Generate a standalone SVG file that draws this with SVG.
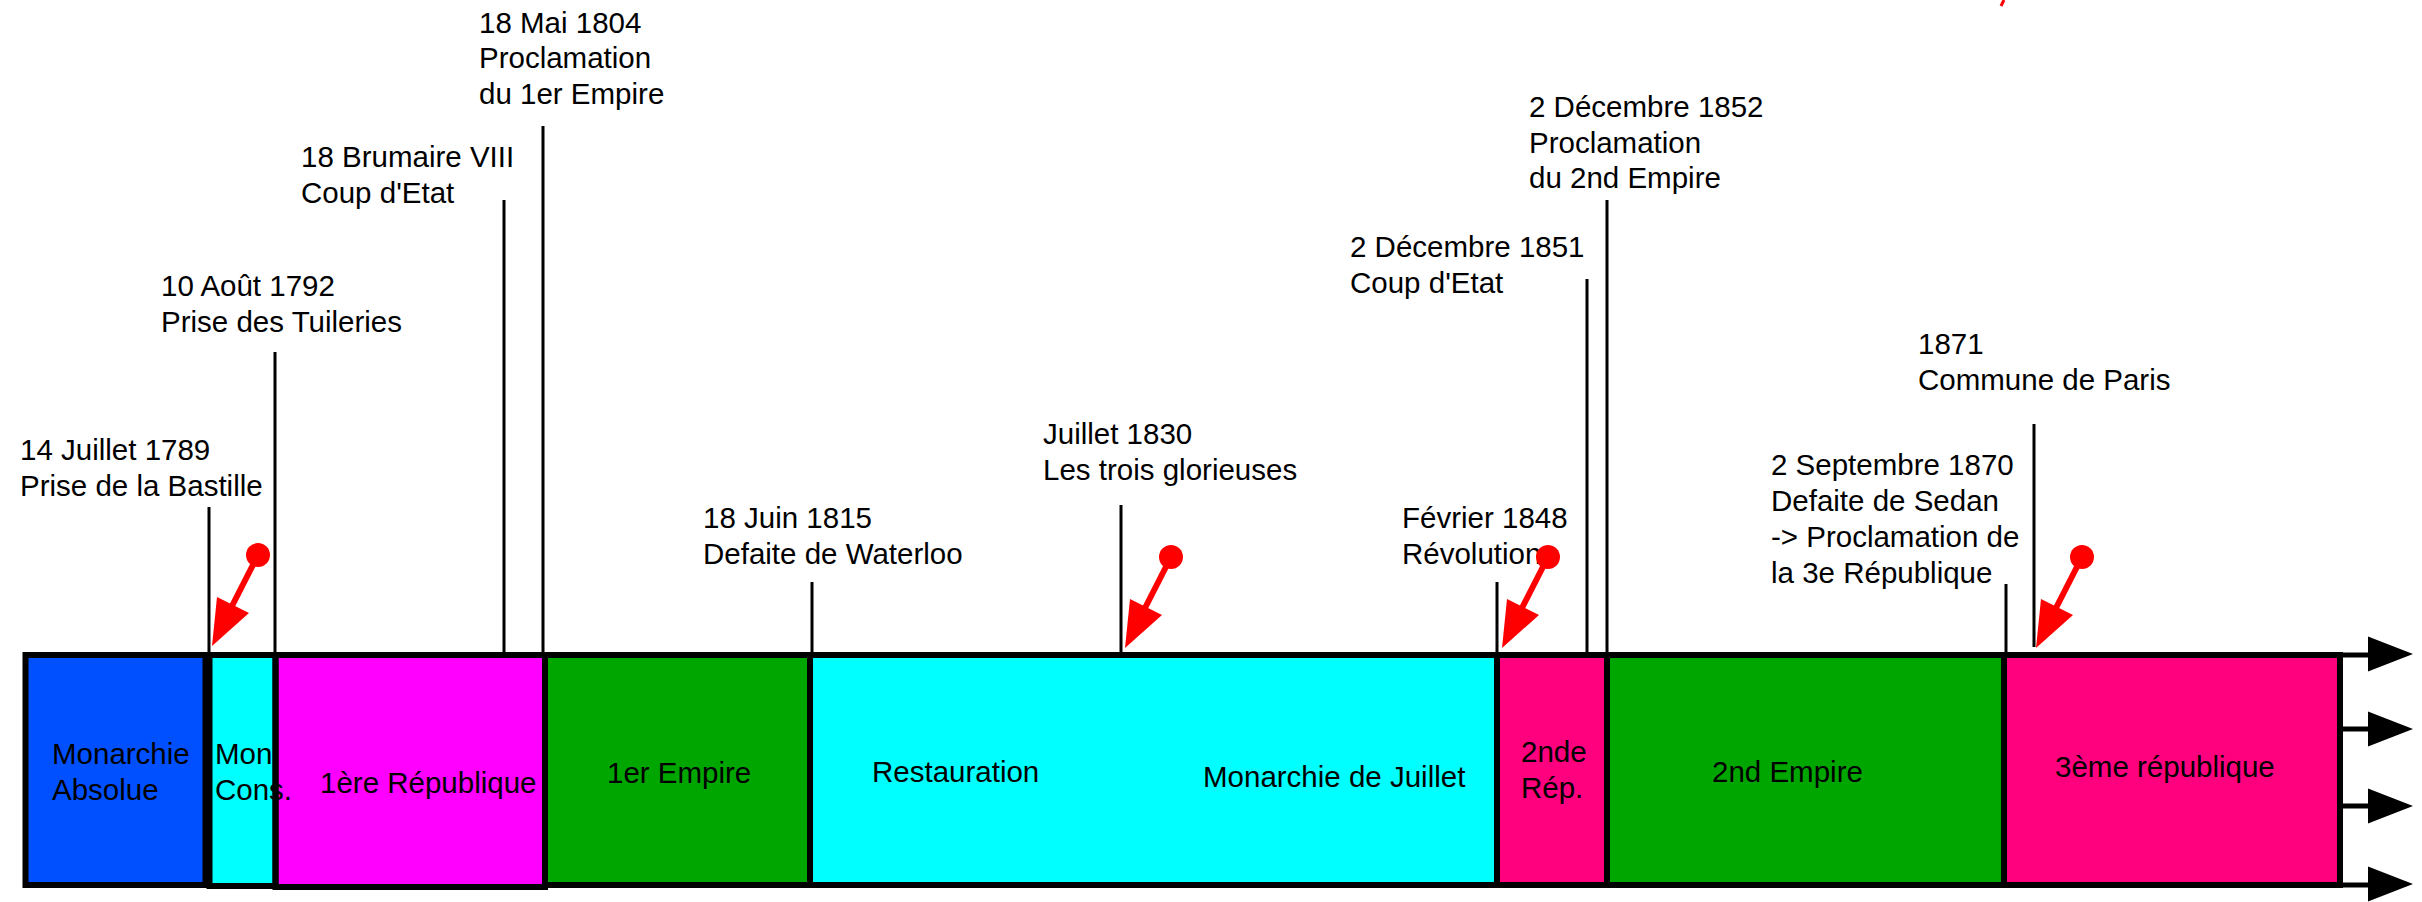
<svg xmlns="http://www.w3.org/2000/svg" xmlns:xlink="http://www.w3.org/1999/xlink" width="2422" height="902" viewBox="0 0 2422 902">
<style>
text { font-family: "Liberation Sans", Arial, sans-serif; font-size: 29.5px; fill: #000; }
.frame { fill: none; stroke: #000; stroke-width: 6; }
.tick { stroke: #000; stroke-width: 3; fill: none; }
.axis { stroke: #000; stroke-width: 5; fill: none; }
</style>
<defs>
  <g id="redarrow">
    <line x1="46" y1="-91" x2="20" y2="-40" stroke="#ff0000" stroke-width="6"/>
    <circle cx="46" cy="-91" r="12" fill="#ff0000"/>
    <polygon points="0,0 5,-49 37,-33" fill="#ff0000"/>
  </g>
  <polygon id="axishead" points="0,-17.5 45,0 0,17.5" fill="#000"/>
</defs>
<rect width="2422" height="902" fill="#ffffff"/>

<g id="labels">
  <g id="ev1789"><text x="20" y="460">14 Juillet 1789</text><text x="20" y="496">Prise de la Bastille</text></g>
  <g id="ev1792"><text x="161" y="296">10 Août 1792</text><text x="161" y="332">Prise des Tuileries</text></g>
  <g id="evBrumaire"><text x="301" y="167">18 Brumaire VIII</text><text x="301" y="203">Coup d'Etat</text></g>
  <g id="ev1804"><text x="479" y="33">18 Mai 1804</text><text x="479" y="68">Proclamation</text><text x="479" y="104">du 1er Empire</text></g>
  <g id="ev1815"><text x="703" y="528">18 Juin 1815</text><text x="703" y="564">Defaite de Waterloo</text></g>
  <g id="ev1830"><text x="1043" y="444">Juillet 1830</text><text x="1043" y="480">Les trois glorieuses</text></g>
  <g id="ev1848"><text x="1402" y="528">Février 1848</text><text x="1402" y="564">Révolution</text></g>
  <g id="ev1851"><text x="1350" y="257">2 Décembre 1851</text><text x="1350" y="293">Coup d'Etat</text></g>
  <g id="ev1852"><text x="1529" y="117">2 Décembre 1852</text><text x="1529" y="153">Proclamation</text><text x="1529" y="188">du 2nd Empire</text></g>
  <g id="ev1871"><text x="1918" y="354">1871</text><text x="1918" y="390">Commune de Paris</text></g>
  <g id="ev1870"><text x="1771" y="475">2 Septembre 1870</text><text x="1771" y="511">Defaite de Sedan</text><text x="1771" y="547">-&gt; Proclamation de</text><text x="1771" y="583">la 3e République</text></g>
</g>

<g id="periods">
  <g id="monarchie-absolue"><rect x="25.5" y="655" width="180" height="230" fill="#0050ff"/><text x="52" y="764">Monarchie</text><text x="52" y="800">Absolue</text></g>
  <g id="premiere-republique"><rect x="275.5" y="655" width="269.5" height="232" fill="#ff00ff"/><text x="320" y="793">1ère République</text></g>
  <g id="monarchie-constitutionnelle"><rect x="209.5" y="655" width="66" height="231" fill="#00ffff"/><text x="215" y="764">Mon</text><text x="215" y="800">Cons.</text></g>
  <g id="premier-empire"><rect x="545" y="655" width="265" height="230" fill="#00a600"/><text x="607" y="783">1er Empire</text></g>
  <g id="restauration-juillet"><rect x="810" y="655" width="687" height="230" fill="#00ffff"/><text x="872" y="782">Restauration</text><text x="1203" y="787">Monarchie de Juillet</text></g>
  <g id="deuxieme-republique"><rect x="1497" y="655" width="110" height="230" fill="#ff007f"/><text x="1521" y="762">2nde</text><text x="1521" y="798">Rép.</text></g>
  <g id="second-empire"><rect x="1607" y="655" width="397" height="230" fill="#00a600"/><text x="1712" y="782">2nd Empire</text></g>
  <g id="troisieme-republique"><rect x="2004" y="655" width="336" height="230" fill="#ff007f"/><text x="2055" y="777">3ème république</text></g>
</g>

<g id="frame">
  <rect class="frame" x="25.5" y="655" width="180" height="230"/>
  <rect class="frame" x="209.5" y="655" width="66" height="231"/>
  <rect class="frame" x="275.5" y="655" width="269.5" height="232"/>
  <rect class="frame" x="545" y="655" width="265" height="230"/>
  <rect class="frame" x="810" y="655" width="687" height="230"/>
  <rect class="frame" x="1497" y="655" width="110" height="230"/>
  <rect class="frame" x="1607" y="655" width="397" height="230"/>
  <rect class="frame" x="2004" y="655" width="336" height="230"/>
</g>

<g id="connectors">
  <line class="tick" x1="209" y1="507" x2="209" y2="655"/>
  <line class="tick" x1="275" y1="352" x2="275" y2="655"/>
  <line class="tick" x1="504" y1="200" x2="504" y2="655"/>
  <line class="tick" x1="543" y1="126" x2="543" y2="655"/>
  <line class="tick" x1="812" y1="582" x2="812" y2="655"/>
  <line class="tick" x1="1121" y1="505" x2="1121" y2="655"/>
  <line class="tick" x1="1497" y1="582" x2="1497" y2="655"/>
  <line class="tick" x1="1587" y1="279" x2="1587" y2="655"/>
  <line class="tick" x1="1607" y1="200" x2="1607" y2="655"/>
  <line class="tick" x1="2006" y1="584" x2="2006" y2="655"/>
  <line class="tick" x1="2034" y1="424" x2="2034" y2="647"/>

  <line class="axis" x1="2340" y1="655" x2="2372" y2="655"/>
  <line class="axis" x1="2340" y1="729" x2="2372" y2="729"/>
  <line class="axis" x1="2340" y1="806" x2="2372" y2="806"/>
  <line class="axis" x1="2340" y1="885" x2="2372" y2="885"/>
  <use xlink:href="#axishead" x="2368" y="654"/>
  <use xlink:href="#axishead" x="2368" y="729"/>
  <use xlink:href="#axishead" x="2368" y="806"/>
  <use xlink:href="#axishead" x="2368" y="884"/>

  <use xlink:href="#redarrow" x="212" y="646"/>
  <use xlink:href="#redarrow" x="1125" y="648"/>
  <use xlink:href="#redarrow" x="1502" y="648"/>
  <use xlink:href="#redarrow" x="2036" y="648"/>
  <line x1="2004" y1="0" x2="2001" y2="6" stroke="#ff0000" stroke-width="3"/>
</g>
</svg>
